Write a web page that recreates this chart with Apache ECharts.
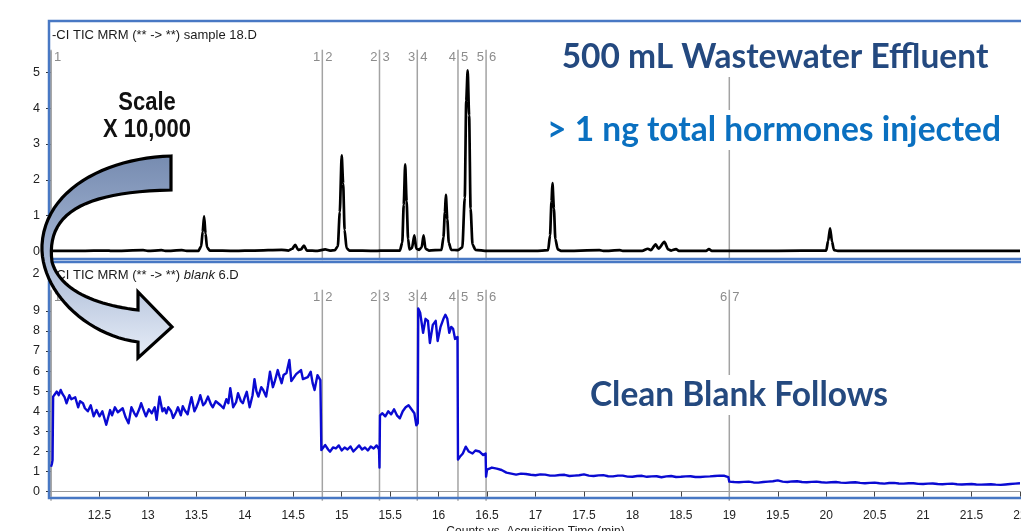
<!DOCTYPE html>
<html><head><meta charset="utf-8">
<script src="https://cdn.jsdelivr.net/npm/echarts@6/dist/echarts.min.js"></script>
<style>html,body{margin:0;padding:0;background:#fff}#c{width:1021px;height:531px}</style>
</head><body><div id="c"></div>
<script>
// ---- data ----
const xMin = 12, xMax = 22, xStep = 0.5;
const topYTicks = [0, 1, 2, 3, 4, 5];
const botYTicks = [0, 1, 2, 3, 4, 5, 6, 7, 8, 9];

const sampleTime = [12.00,12.30,12.58,12.62,12.95,13.00,13.14,13.18,13.35,13.40,13.52,13.55,13.565,13.58,13.595,13.61,13.64,13.90,14.10,14.38,14.45,14.49,14.52,14.55,14.58,14.61,14.64,14.75,14.83,14.88,14.93,14.96,14.98,15.00,15.015,15.03,15.05,15.08,15.35,15.45,15.60,15.625,15.64,15.655,15.67,15.685,15.70,15.725,15.75,15.77,15.80,15.825,15.845,15.865,15.90,16.03,16.05,16.065,16.075,16.09,16.105,16.13,16.20,16.245,16.27,16.285,16.30,16.315,16.33,16.35,16.38,16.50,17.00,17.13,17.15,17.165,17.175,17.19,17.205,17.23,17.27,17.66,17.70,17.87,17.90,18.10,18.16,18.19,18.24,18.27,18.33,18.37,18.40,18.45,18.48,18.76,18.79,18.82,19.50,20.00,20.02,20.04,20.06,20.08,20.12,22.00];
const sampleCounts = [0.02,0.02,0.03,0.02,0.04,0.02,0.04,0.02,0.04,0.02,0.02,0.15,0.55,0.98,0.50,0.12,0.03,0.02,0.03,0.05,0.03,0.08,0.19,0.05,0.06,0.17,0.03,0.02,0.06,0.03,0.04,0.15,1.10,2.68,1.90,0.60,0.10,0.03,0.02,0.03,0.03,0.25,1.30,2.43,1.40,0.35,0.06,0.10,0.45,0.08,0.05,0.12,0.45,0.08,0.03,0.05,0.40,1.10,1.58,0.90,0.25,0.05,0.04,0.12,1.50,4.20,5.05,3.80,1.20,0.20,0.05,0.02,0.02,0.04,0.45,1.40,1.91,1.20,0.35,0.06,0.02,0.04,0.02,0.04,0.02,0.02,0.08,0.04,0.20,0.08,0.27,0.06,0.03,0.07,0.02,0.02,0.07,0.02,0.02,0.03,0.30,0.65,0.28,0.04,0.02,0.02];

const blankTime = [12.000,12.010,12.016,12.022,12.04,12.06,12.08,12.10,12.12,12.14,12.16,12.19,12.21,12.23,12.25,12.28,12.30,12.33,12.35,12.38,12.41,12.44,12.47,12.50,12.53,12.57,12.61,12.63,12.66,12.69,12.71,12.74,12.77,12.80,12.83,12.86,12.88,12.91,12.93,12.96,12.98,13.01,13.04,13.07,13.09,13.12,13.15,13.17,13.19,13.21,13.24,13.26,13.29,13.31,13.34,13.36,13.38,13.41,13.43,13.45,13.48,13.50,13.52,13.54,13.57,13.59,13.62,13.65,13.67,13.70,13.72,13.75,13.78,13.81,13.83,13.85,13.88,13.91,13.93,13.96,13.98,14.00,14.02,14.05,14.08,14.10,14.12,14.14,14.17,14.19,14.22,14.24,14.26,14.29,14.31,14.34,14.36,14.38,14.40,14.43,14.46,14.48,14.50,14.53,14.55,14.58,14.60,14.62,14.65,14.68,14.70,14.72,14.75,14.78,14.79,14.81,14.83,14.86,14.88,14.91,14.94,14.97,15.00,15.03,15.06,15.09,15.12,15.15,15.18,15.21,15.24,15.27,15.30,15.33,15.36,15.385,15.39,15.395,15.42,15.45,15.48,15.51,15.54,15.57,15.60,15.63,15.66,15.69,15.72,15.75,15.77,15.785,15.79,15.81,15.84,15.865,15.89,15.91,15.94,15.97,15.99,16.02,16.05,16.07,16.09,16.11,16.13,16.15,16.17,16.195,16.20,16.22,16.25,16.28,16.31,16.35,16.38,16.42,16.46,16.485,16.49,16.50,16.55,16.60,16.65,16.70,16.75,16.80,16.85,16.90,16.95,17.00,17.05,17.10,17.15,17.20,17.25,17.30,17.35,17.40,17.45,17.50,17.55,17.60,17.65,17.70,17.75,17.80,17.85,17.90,17.95,18.00,18.05,18.10,18.15,18.20,18.25,18.30,18.35,18.40,18.45,18.50,18.55,18.60,18.65,18.70,18.75,18.80,18.85,18.90,18.95,18.99,19.00,19.05,19.10,19.15,19.20,19.25,19.30,19.35,19.40,19.45,19.50,19.55,19.60,19.65,19.70,19.75,19.80,19.85,19.90,19.95,20.00,20.05,20.10,20.15,20.20,20.25,20.30,20.35,20.40,20.45,20.50,20.55,20.60,20.65,20.70,20.75,20.80,20.85,20.90,20.95,21.00,21.05,21.10,21.15,21.20,21.25,21.30,21.35,21.40,21.45,21.50,21.55,21.60,21.65,21.70,21.75,21.80,21.85,21.90,21.95,22.00];
const blankCounts = [1.24,1.40,1.57,4.73,4.85,4.98,4.80,5.06,4.85,4.70,4.40,4.80,4.60,4.55,4.70,4.20,4.50,4.40,4.15,4.00,4.30,3.75,4.06,3.75,4.00,3.33,4.06,3.80,4.20,3.95,3.90,4.15,3.70,3.40,4.20,3.90,3.75,4.10,4.40,4.00,3.75,4.10,3.90,4.20,3.58,4.73,4.00,4.15,3.90,4.20,4.00,3.67,3.95,4.20,3.80,4.25,4.05,3.85,4.30,4.70,4.00,4.20,4.45,4.80,4.30,4.40,4.73,4.35,4.20,4.50,4.56,4.30,4.15,4.60,4.40,5.15,4.20,4.45,4.90,4.50,4.40,4.70,4.97,4.20,4.80,5.60,5.00,4.73,5.20,5.06,4.73,5.30,5.97,5.20,5.50,6.05,5.70,5.40,5.80,5.90,6.55,5.50,5.55,5.85,5.90,6.05,5.60,5.55,5.70,5.97,5.40,5.06,5.80,5.55,2.07,2.20,2.32,2.10,1.99,2.20,2.15,2.30,2.05,2.20,2.10,2.25,2.00,2.15,2.30,2.10,2.20,2.05,2.25,2.15,2.30,2.10,1.20,3.80,3.90,3.75,4.00,3.85,4.10,3.80,3.65,4.00,4.20,4.30,4.10,3.90,3.30,3.40,9.12,8.90,7.90,8.60,8.50,7.40,8.30,8.50,7.50,8.20,8.60,8.80,8.60,7.90,8.20,8.10,7.60,7.70,1.60,1.74,1.90,2.24,2.00,1.90,2.05,2.00,1.82,1.90,0.75,1.10,1.20,1.15,1.08,0.95,0.90,0.85,0.90,0.88,0.84,0.82,0.86,0.85,0.80,0.80,0.83,0.84,0.78,0.80,0.82,0.86,0.80,0.78,0.81,0.82,0.77,0.76,0.80,0.80,0.75,0.74,0.78,0.79,0.74,0.76,0.77,0.72,0.76,0.78,0.73,0.74,0.76,0.77,0.73,0.73,0.75,0.76,0.78,0.80,0.79,0.72,0.50,0.48,0.47,0.49,0.50,0.46,0.45,0.48,0.50,0.52,0.56,0.50,0.48,0.51,0.52,0.48,0.47,0.49,0.50,0.47,0.45,0.47,0.48,0.45,0.44,0.46,0.47,0.44,0.42,0.44,0.45,0.42,0.40,0.43,0.44,0.41,0.40,0.42,0.42,0.39,0.38,0.40,0.41,0.38,0.37,0.39,0.40,0.37,0.36,0.37,0.38,0.36,0.35,0.36,0.37,0.35,0.34,0.36,0.38,0.40,0.42];

const segTime  = [12.0, 14.8, 15.39, 15.78, 16.2, 16.49, 19.0];
const segLeft  = ['', '1', '2', '3', '4', '5', '6'];
const segRight = ['1', '2', '3', '4', '5', '6', '7'];

const topTitle = '-CI TIC MRM (** -> **) sample 18.D';
const botTitlePre = '-CI TIC MRM (** -> **) ';
const botTitleItalic = 'blank';
const botTitlePost = ' 6.D';
const xName = 'Counts vs. Acquisition Time (min)';
const headline1 = '500 mL Wastewater Effluent';
const headline2 = '> 1 ng total hormones injected';
const headline3 = 'Clean Blank Follows';
const scaleText1 = 'Scale';
const scaleText2 = 'X 10,000';
const exponentLabel = '2';

// ---- chart ----
const FONT = '"Liberation Sans", Arial, sans-serif';
const chart = echarts.init(document.getElementById('c'));

function zip(a, b) { return a.map((v, i) => [v, b[i]]); }

// decorative curved arrow outline (annotation shape, not data)
function bez(p0, p1, p2, p3, n) {
  const out = [];
  for (let k = 1; k <= n; k++) {
    const t = k / n, u = 1 - t;
    out.push([u*u*u*p0[0] + 3*u*u*t*p1[0] + 3*u*t*t*p2[0] + t*t*t*p3[0],
              u*u*u*p0[1] + 3*u*u*t*p1[1] + 3*u*t*t*p2[1] + t*t*t*p3[1]]);
  }
  return out;
}
const arrowPts = [[171, 156]]
  .concat(bez([171,156],[105,158],[45,190],[42,245], 24))
  .concat(bez([42,245],[40,290],[85,335],[138,342], 24))
  .concat([[138,358],[172,327],[138,292],[138,310]])
  .concat(bez([138,310],[95,305],[60,290],[52,262], 24))
  .concat(bez([52,262],[46,215],[80,192],[171,190], 24));

function segRender(params, api) {
  const cs = params.coordSys;
  const x = api.coord([api.value(0), 0])[0];
  const i = params.dataIndex;
  const ly = cs.y + 6;
  return {
    type: 'group',
    children: [
      { type: 'line', shape: { x1: x, y1: cs.y - 2, x2: x, y2: cs.y + cs.height + 5 },
        style: { stroke: '#a3a3a3', lineWidth: 1.5 } },
      { type: 'text', style: { text: segLeft[i], x: x - 2, y: ly, align: 'right', verticalAlign: 'middle',
        fill: '#8c8c8c', font: '13px ' + FONT } },
      { type: 'text', style: { text: segRight[i], x: x + 3, y: ly, align: 'left', verticalAlign: 'middle',
        fill: '#8c8c8c', font: '13px ' + FONT } }
    ]
  };
}

const yAxisCommon = {
  axisLine: { show: true, lineStyle: { color: '#9a9a9a', width: 1.5 } },
  axisTick: { show: true, length: 5, lineStyle: { color: '#333', width: 1 } },
  axisLabel: { color: '#222', fontSize: 12.5, fontFamily: FONT, margin: 11 },
  splitLine: { show: false }
};

const option = {
  animation: false,
  grid: [
    { left: 51, right: 1, top: 51.7, height: 203.5, outerBoundsMode: 'none', containLabel: false },
    { left: 51, right: 1, top: 291.7, height: 204, outerBoundsMode: 'none', containLabel: false }
  ],
  xAxis: [
    { gridIndex: 0, type: 'value', min: xMin, max: xMax, interval: xStep,
      axisLine: { show: false }, axisTick: { show: false }, axisLabel: { show: false }, splitLine: { show: false } },
    { gridIndex: 1, type: 'value', min: xMin, max: xMax, interval: xStep,
      axisLine: { show: true, lineStyle: { color: '#9a9a9a', width: 1 } },
      axisTick: { show: true, length: 5, inside: false, lineStyle: { color: '#444' } },
      axisLabel: { color: '#222', fontSize: 12, fontFamily: FONT, margin: 14, showMinLabel: false, showMaxLabel: true,
        formatter: v => String(v) },
      splitLine: { show: false },
      name: xName, nameLocation: 'middle', nameGap: 30,
      nameTextStyle: { color: '#222', fontSize: 12, fontFamily: FONT } }
  ],
  yAxis: [
    Object.assign({}, yAxisCommon, { gridIndex: 0, type: 'value', min: -0.1, max: 5.57,
      axisLabel: Object.assign({}, yAxisCommon.axisLabel, { customValues: topYTicks }),
      axisTick: Object.assign({}, yAxisCommon.axisTick, { customValues: topYTicks }) }),
    Object.assign({}, yAxisCommon, { gridIndex: 1, type: 'value', min: -0.2, max: 9.95,
      axisLabel: Object.assign({}, yAxisCommon.axisLabel, { customValues: botYTicks }),
      axisTick: Object.assign({}, yAxisCommon.axisTick, { customValues: botYTicks }) })
  ],
  series: [
    { type: 'custom', xAxisIndex: 0, yAxisIndex: 0, renderItem: segRender,
      data: segTime.map(t => [t]), silent: true, z: 1, clip: false },
    { type: 'custom', xAxisIndex: 1, yAxisIndex: 1, renderItem: segRender,
      data: segTime.map(t => [t]), silent: true, z: 1, clip: false },
    { type: 'line', xAxisIndex: 0, yAxisIndex: 0, data: zip(sampleTime, sampleCounts),
      showSymbol: false, smooth: 0.25, smoothMonotone: 'x',
      lineStyle: { color: '#000', width: 2.7, join: 'round' }, z: 3 },
    { type: 'line', xAxisIndex: 1, yAxisIndex: 1, data: zip(blankTime, blankCounts),
      showSymbol: false, smooth: false,
      lineStyle: { color: '#0a0ad2', width: 2.4, join: 'round' }, z: 3 }
  ],
  graphic: [
    // panel frames
    { type: 'rect', z: 50, shape: { x: 49, y: 21, width: 1000, height: 238 },
      style: { fill: 'none', stroke: '#4878c4', lineWidth: 2.5 } },
    { type: 'rect', z: 50, shape: { x: 49, y: 262, width: 1000, height: 236 },
      style: { fill: 'none', stroke: '#4878c4', lineWidth: 2.5 } },
    // panel titles
    { type: 'text', z: 60, style: { text: topTitle, x: 52, y: 35, verticalAlign: 'middle',
      fill: '#1a1a1a', font: '13px ' + FONT } },
    { type: 'text', z: 60, style: {
      text: '{n|' + botTitlePre + '}{i|' + botTitleItalic + '}{n|' + botTitlePost + '}',
      x: 52, y: 275, verticalAlign: 'middle',
      rich: { n: { fill: '#1a1a1a', font: '13px ' + FONT }, i: { fill: '#1a1a1a', font: 'italic 13px ' + FONT } } } },
    { type: 'text', z: 60, style: { text: exponentLabel, x: 36, y: 274, align: 'center', verticalAlign: 'middle',
      fill: '#222', font: '12.5px ' + FONT } },
    // headline texts
    { type: 'text', z: 70, style: { text: headline1, x: 775, y: 57, align: 'center', verticalAlign: 'middle',
      fill: '#24497f', font: 'bold 33.5px Lato', backgroundColor: '#fff', padding: [3, 6] } },
    { type: 'text', z: 70, style: { text: headline2, x: 774, y: 130, align: 'center', verticalAlign: 'middle',
      fill: '#0a70c0', font: 'bold 33.5px Lato', backgroundColor: '#fff', padding: [3, 6] } },
    { type: 'text', z: 70, style: { text: headline3, x: 739, y: 395, align: 'center', verticalAlign: 'middle',
      fill: '#24497f', font: 'bold 33.5px Lato', backgroundColor: '#fff', padding: [3, 6] } },
    { type: 'text', z: 70, x: 147, y: 103, scaleX: 0.88, style: { text: scaleText1, x: 0, y: 0, align: 'center', verticalAlign: 'middle',
      fill: '#111', font: 'bold 25px "Liberation Sans", Arial, sans-serif' } },
    { type: 'text', z: 70, x: 147, y: 130, scaleX: 0.88, style: { text: scaleText2, x: 0, y: 0, align: 'center', verticalAlign: 'middle',
      fill: '#111', font: 'bold 25px "Liberation Sans", Arial, sans-serif' } },
    // curved arrow
    { type: 'polygon', z: 80,
      shape: { points: arrowPts },
      style: { fill: { type: 'linear', x: 0, y: 0, x2: 0, y2: 1,
        colorStops: [{ offset: 0, color: '#768bb0' }, { offset: 0.45, color: '#9fb1d0' }, { offset: 1, color: '#e8eef8' }] },
        stroke: '#000', lineWidth: 3.2, lineJoin: 'miter' } }
  ]
};
chart.setOption(option);
</script>
</body></html>
